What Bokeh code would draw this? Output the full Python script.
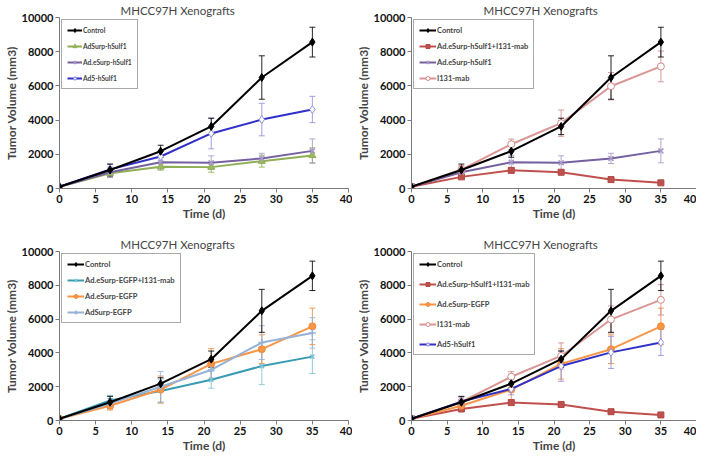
from bokeh.plotting import figure
from bokeh.models import ColumnDataSource, Whisker, TeeHead, FixedTicker, Range1d, Legend, LegendItem
from bokeh.layouts import column, row
from bokeh.embed import file_html
from bokeh.resources import INLINE

days = [0, 7, 14, 21, 28, 35]

control = [100, 1080, 2180, 3630, 6490, 8560]
control_err = [30, 350, 350, 480, 1270, 870]
adsurp_hsulf1 = [100, 890, 1270, 1250, 1600, 1930]
adsurp_hsulf1_err = [30, 250, 200, 300, 350, 450]
adesurp_hsulf1 = [100, 950, 1540, 1510, 1760, 2200]
adesurp_hsulf1_err = [30, 300, 400, 400, 300, 700]
ad5_hsulf1 = [100, 1120, 1870, 3220, 4030, 4620]
ad5_hsulf1_err = [30, 300, 350, 900, 950, 770]
combo_hsulf1 = [100, 680, 1060, 950, 520, 330]
combo_hsulf1_err = [30, 100, 150, 120, 120, 80]
i131_mab = [100, 1100, 2590, 3820, 5980, 7140]
i131_mab_err = [30, 250, 300, 770, 800, 900]
combo_egfp = [100, 1190, 1750, 2410, 3220, 3780]
combo_egfp_err = [30, 300, 700, 500, 1100, 1000]
adesurp_egfp = [100, 870, 1830, 3350, 4220, 5570]
adesurp_egfp_err = [30, 250, 800, 900, 850, 1080]
adsurp_egfp = [100, 1000, 2000, 2990, 4610, 5180]
adsurp_egfp_err = [30, 300, 900, 600, 1000, 900]

x_ticks = [0, 5, 10, 15, 20, 25, 30, 35, 40]
y_ticks = [0, 2000, 4000, 6000, 8000, 10000]

FONT = "Lato"

S = {
    "Control": (control, control_err, "#000000", "diamond", "#000000", "#000000", 8),
    "AdSurp-hSulf1": (adsurp_hsulf1, adsurp_hsulf1_err, "#8FAF55", "triangle", "#9BBB59", "#8FAF55", 7),
    "Ad.eSurp-hSulf1": (adesurp_hsulf1, adesurp_hsulf1_err, "#7560A0", "x", "#A898C8", "#A898C8", 7),
    "Ad5-hSulf1": (ad5_hsulf1, ad5_hsulf1_err, "#3030C8", "diamond", "#FFFFFF", "#9090E0", 8),
    "Ad.eSurp-hSulf1+I131-mab": (combo_hsulf1, combo_hsulf1_err, "#C0504D", "square", "#C0504D", "#B04845", 6),
    "I131-mab": (i131_mab, i131_mab_err, "#D99694", "circle", "#FFFFFF", "#D08A88", 7),
    "Ad.eSurp-EGFP+I131-mab": (combo_egfp, combo_egfp_err, "#3A9CB2", "x", "#7CC3D4", "#7CC3D4", 6),
    "Ad.eSurp-EGFP": (adesurp_egfp, adesurp_egfp_err, "#F79646", "circle", "#F79646", "#F08A38", 7),
    "AdSurp-EGFP": (adsurp_egfp, adsurp_egfp_err, "#95B3D7", "cross", "#95B3D7", "#95B3D7", 7),
}

panels = [
    ["Control", "AdSurp-hSulf1", "Ad.eSurp-hSulf1", "Ad5-hSulf1"],
    ["Control", "Ad.eSurp-hSulf1+I131-mab", "Ad.eSurp-hSulf1", "I131-mab"],
    ["Control", "Ad.eSurp-EGFP+I131-mab", "Ad.eSurp-EGFP", "AdSurp-EGFP"],
    ["Control", "Ad.eSurp-hSulf1+I131-mab", "Ad.eSurp-EGFP", "I131-mab", "Ad5-hSulf1"],
]


def make_fig(names, fw, fh, spacing, leg_font, glyph_w, title_off, mb_right, mb_top, mb_bottom):
    p = figure(frame_width=fw, frame_height=fh, output_backend="svg", toolbar_location=None,
               x_range=Range1d(0, 40), y_range=Range1d(0, 10000),
               title="MHCC97H Xenografts",
               min_border_left=0, min_border_right=mb_right,
               min_border_top=mb_top, min_border_bottom=mb_bottom)
    p.title.align = "left"
    p.title.offset = title_off
    p.title.text_font = FONT
    p.title.text_font_size = "11.5px"
    p.title.text_font_style = "normal"
    p.title.standoff = 2
    p.outline_line_color = None
    p.xgrid.grid_line_color = None
    p.ygrid.grid_line_color = None
    p.xaxis.ticker = FixedTicker(ticks=x_ticks)
    p.yaxis.ticker = FixedTicker(ticks=y_ticks)
    p.xaxis.axis_label = "Time (d)"
    p.yaxis.axis_label = "Tumor Volume (mm3)"
    for ax in (p.xaxis, p.yaxis):
        ax.axis_label_text_font = FONT
        ax.axis_label_text_font_size = "12px"
        ax.axis_label_text_font_style = "bold"
        ax.major_label_text_font = FONT
        ax.major_label_text_font_size = "11px"
        ax.major_label_text_font_style = "bold"
        ax.major_label_text_color = "#111111"
        ax.axis_line_color = "#7a7a7a"
        ax.major_tick_line_color = "#7a7a7a"
        ax.major_tick_in = 0
        ax.major_tick_out = 4
        ax.minor_tick_line_color = None
        ax.axis_label_standoff = 0
        ax.major_label_standoff = 2
    order = names[1:] + names[:1]
    for n in order:
        vals, errs, lc, mk, mf, ml, ms = S[n]
        src = ColumnDataSource(dict(
            x=days,
            upper=[v + e for v, e in zip(vals, errs)],
            lower=[v - e for v, e in zip(vals, errs)]))
        w = Whisker(base="x", upper="upper", lower="lower", source=src,
                    line_color=ml, line_width=1, line_alpha=0.85,
                    upper_head=TeeHead(size=6, line_color=ml, line_width=1, line_alpha=0.85),
                    lower_head=TeeHead(size=6, line_color=ml, line_width=1, line_alpha=0.85))
        p.add_layout(w)
    items = {}
    for n in order:
        vals, errs, lc, mk, mf, ml, ms = S[n]
        src = ColumnDataSource(dict(x=days, y=vals))
        r1 = p.line("x", "y", source=src, line_color=lc, line_width=2)
        lw = 1.5 if mk in ("x", "cross") else 1
        r2 = p.scatter("x", "y", source=src, marker=mk, size=ms, fill_color=mf,
                       line_color=ml, line_width=lw)
        items[n] = [r1, r2]
    leg = Legend(items=[LegendItem(label=n, renderers=items[n]) for n in names],
                 location="top_left")
    leg.label_text_font = FONT
    leg.label_text_font_size = leg_font
    leg.label_text_font_style = "bold"
    leg.glyph_width = glyph_w
    leg.glyph_height = 10
    leg.label_height = 10
    leg.label_standoff = 1
    leg.spacing = spacing
    leg.padding = 5
    leg.margin = 2
    leg.border_line_color = "#555555"
    leg.border_line_width = 1
    leg.background_fill_alpha = 1
    p.add_layout(leg, "center")
    return p


p1 = make_fig(panels[0], 289, 171, 6, "6.7px", 15, 61, 4, 0, 42)
p2 = make_fig(panels[1], 285, 171, 6, "7.5px", 17, 72, 0, 0, 42)
p3 = make_fig(panels[2], 289, 169, 6, "7.6px", 17, 61, 4, 21, 0)
p4 = make_fig(panels[3], 285, 169, 10, "7.6px", 17, 72, 0, 21, 0)

layout = column(row(p1, p2), row(p3, p4))
open("out.html", "w").write(file_html(layout, INLINE))
